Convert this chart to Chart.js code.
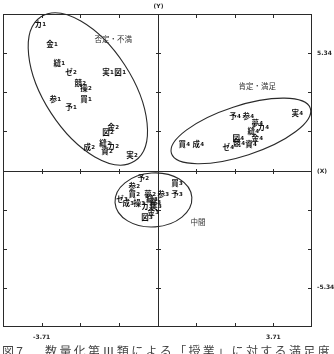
<!DOCTYPE html>
<html>
<head>
<meta charset="utf-8">
<script src="https://cdn.jsdelivr.net/npm/chart.js@4/dist/chart.umd.min.js"></script>
<style>
html,body{margin:0;padding:0;background:#fff;}
#wrap{width:334px;height:354px;position:relative;}
</style>
</head>
<body>
<div id="wrap"><canvas id="c"></canvas></div>
<script>
// ---- data ----
const cat1 = ['カ','金','縫','実','図','参','買','予'];
const x1   = [-3.76,-3.38,-3.15,-1.59,-1.20,-3.28,-2.29,-2.77];
const y1   = [ 6.67, 5.76, 4.89, 4.48, 4.48, 3.25, 3.25, 2.89];

const cat2 = ['ゼ','競','操','金','図','縫','カ','資','成','実','予','参','買','夢'];
const x2   = [-2.77,-2.48,-2.29,-1.42,-1.59,-1.68,-1.42,-1.62,-2.19,-0.82,-0.46,-0.75,-0.75,-0.24];
const y2   = [ 4.48, 3.98, 3.75, 1.98, 1.75, 1.25, 1.11, 0.89, 1.07, 0.71,-0.34,-0.71,-1.07,-1.07];

const cat3 = ['買','参','予','ゼ','成','操','縫','資','カ','実','金','図'];
const x3   = [ 0.62, 0.18, 0.62,-1.14,-0.94,-0.59,-0.18,-0.08,-0.34,-0.05,-0.14,-0.34];
const y3   = [-0.57,-1.07,-1.07,-1.30,-1.48,-1.48,-1.30,-1.43,-1.62,-1.62,-1.89,-2.12];

const cat4 = ['予','参','実','夢','カ','縫','図','金','競','資','ゼ','買','成'];
const x4   = [ 2.48, 2.90, 4.47, 3.19, 3.38, 3.06, 2.58, 3.19, 2.61, 2.99, 2.26, 0.85, 1.30];
const y4   = [ 2.48, 2.48, 2.62, 2.16, 1.98, 1.80, 1.48, 1.48, 1.25, 1.21, 1.07, 1.21, 1.21];

const xTickLabelValues = [-3.71, 3.71];
const yTickLabelValues = [5.34, -5.34];
const groupNames = ['否定・不満','肯定・満足','中間'];
const groupX = [-1.42, 3.19, 1.30];
const groupY = [ 5.98, 3.84,-2.34];
const ellipseCX = [-2.23, 2.67, -0.13];
const ellipseCY = [ 3.71, 1.80, -1.34];
const caption = '図7　数量化第Ⅲ類による「授業」に対する満足度';

// ---- styling / layout ----
const xStep = 3.71/3, yStep = 5.34/3;
const ellipseShape = [ {a:86,b:44,rot:57}, {a:73,b:25,rot:-18}, {a:38.5,b:27,rot:-4} ];
const INK = '#2a2a2a';
const JP = '"Noto Sans CJK JP","Noto Sans",sans-serif';

function mk(cats, xs, ys, lvl){
  return {label:'level'+lvl, lvl:lvl, cats:cats,
    data: xs.map((v,i)=>({x:v,y:ys[i]})), pointRadius:0, pointHoverRadius:0};
}

const overlay = {
  id:'overlay',
  afterDatasetsDraw(chart){
    const ctx = chart.ctx, a = chart.chartArea;
    const xs = chart.scales.x, ys = chart.scales.y;
    const X0 = Math.round(xs.getPixelForValue(0))+0.5;
    const Y0 = Math.round(ys.getPixelForValue(0))+0.5;
    ctx.save();
    ctx.strokeStyle = INK; ctx.lineWidth = 1;
    // frame
    ctx.strokeRect(Math.round(a.left)+0.5, Math.round(a.top)+0.5, Math.round(a.width)-1, Math.round(a.height)-1);
    // axes
    ctx.beginPath();
    ctx.moveTo(X0, a.top); ctx.lineTo(X0, a.bottom);
    ctx.moveTo(a.left, Y0); ctx.lineTo(a.right, Y0);
    ctx.stroke();
    // ticks
    ctx.beginPath();
    for (let i=-3;i<=3;i++){
      if(!i) continue;
      const px = Math.round(xs.getPixelForValue(i*xStep))+0.5;
      const py = Math.round(ys.getPixelForValue(i*yStep))+0.5;
      ctx.moveTo(px, a.bottom); ctx.lineTo(px, a.bottom-4);
      ctx.moveTo(px, a.top); ctx.lineTo(px, a.top+4);
      ctx.moveTo(px, Y0-2.5); ctx.lineTo(px, Y0+2.5);
      ctx.moveTo(a.left, py); ctx.lineTo(a.left+4, py);
      ctx.moveTo(a.right, py); ctx.lineTo(a.right-4, py);
      ctx.moveTo(X0-2.5, py); ctx.lineTo(X0+2.5, py);
    }
    ctx.stroke();
    // ellipses
    ctx.lineWidth = 1.1;
    ellipseCX.forEach((cx,i)=>{
      const s = ellipseShape[i];
      ctx.beginPath();
      ctx.ellipse(xs.getPixelForValue(cx), ys.getPixelForValue(ellipseCY[i]), s.a, s.b, s.rot*Math.PI/180, 0, Math.PI*2);
      ctx.stroke();
    });
    // tick labels
    ctx.fillStyle = INK;
    ctx.font = 'bold 6px "DejaVu Sans",sans-serif';
    ctx.textAlign='center'; ctx.textBaseline='middle';
    xTickLabelValues.forEach(v=>ctx.fillText(v.toFixed(2), xs.getPixelForValue(v), a.bottom+10));
    ctx.textAlign='left';
    yTickLabelValues.forEach(v=>ctx.fillText(v.toFixed(2), a.right+5, ys.getPixelForValue(v)));
    ctx.fillText('(X)', a.right+5, Y0);
    ctx.textAlign='center';
    ctx.fillText('(Y)', X0, 6);
    // group labels
    ctx.font = '7.5px '+JP;
    ctx.fillStyle = '#333';
    groupNames.forEach((t,i)=>ctx.fillText(t, xs.getPixelForValue(groupX[i]), ys.getPixelForValue(groupY[i])));
    // point labels
    ctx.fillStyle = '#111';
    chart.data.datasets.forEach((ds,di)=>{
      const meta = chart.getDatasetMeta(di);
      meta.data.forEach((el,i)=>{
        const k = ds.cats[i], n = String(ds.lvl);
        ctx.font = 'bold 7.5px '+JP;
        const wk = ctx.measureText(k).width;
        ctx.font = 'bold 5.5px "DejaVu Sans",sans-serif';
        const wn = ctx.measureText(n).width;
        const left = el.x - (wk+wn)/2;
        ctx.textAlign='left'; ctx.textBaseline='middle';
        ctx.font = 'bold 7.5px '+JP;
        ctx.fillText(k, left, el.y);
        ctx.font = 'bold 5.5px "DejaVu Sans",sans-serif';
        ctx.fillText(n, left+wk+0.3, el.y+0.5);
      });
    });
    // caption (cut at bottom edge)
    ctx.fillStyle = '#444';
    ctx.font = '12px '+JP;
    ctx.textAlign='left'; ctx.textBaseline='top';
    const chars = Array.from(caption);
    const step = (chart.width-4)/chars.length;
    chars.forEach((c,i)=>ctx.fillText(c, 2+i*step, 345));
    ctx.restore();
  }
};

new Chart(document.getElementById('c'), {
  type:'scatter',
  data:{ datasets:[ mk(cat1,x1,y1,1), mk(cat2,x2,y2,2), mk(cat3,x3,y3,3), mk(cat4,x4,y4,4) ] },
  options:{
    responsive:true, maintainAspectRatio:false, animation:false,
    layout:{ padding:{left:3,right:22,top:14,bottom:27} },
    plugins:{ legend:{display:false}, tooltip:{enabled:false} },
    scales:{
      x:{ type:'linear', min:-4*xStep, max:4*xStep, display:false },
      y:{ type:'linear', min:-4*yStep, max:4*yStep, display:false }
    }
  },
  plugins:[overlay]
});
</script>
</body>
</html>
